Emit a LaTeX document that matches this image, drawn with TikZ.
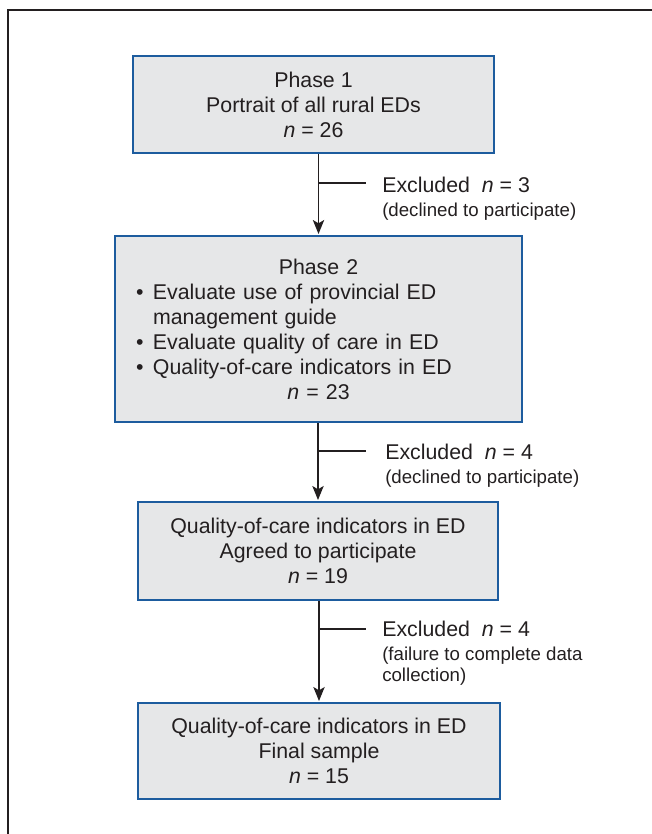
\documentclass[tikz,border=0pt]{standalone}
\usepackage{fontspec}
\setmainfont{Liberation Sans}
\usetikzlibrary{arrows.meta}

\definecolor{boxblue}{HTML}{1D5C9E}
\definecolor{boxgray}{HTML}{E6E7E8}
\definecolor{inkgray}{HTML}{231F20}

\newcommand{\nval}[1]{\textit{n} = #1}
\newcommand{\bpoint}[1]{\par\hangindent=12.75pt\hangafter=1\noindent\makebox[12.75pt][l]{\textbullet}#1}

\begin{document}
\begin{tikzpicture}[x=0.75pt,y=-0.75pt,
    stage/.style={draw=boxblue, line width=1.5pt, fill=boxgray, text=inkgray,
      align=center, inner sep=0pt, font=\fontsize{16}{18.75}\selectfont},
    flow/.style={draw=inkgray, line width=1pt, shorten >=0.75pt,
      -{Stealth[length=10.5pt,width=8.5pt,inset=2.5pt]}},
    tick/.style={draw=inkgray, line width=1pt},
    note/.style={anchor=north west, inner sep=0pt, align=left, text=inkgray,
      font=\fontsize{14}{16}\selectfont}]
  \useasboundingbox (0,0) rectangle (652,834);
  % frame
  \draw [inkgray, line width=0.9pt] (8,834) -- (8,10) -- (652,10);

  % stages
  \node [stage, minimum width=270.75pt, minimum height=72.75pt] (p1) at (313.5,104.5)
    {Phase 1\\Portrait of all rural EDs\\\nval{26}};
  \node [stage, align=left, text width=273.75pt, inner xsep=15.75pt, minimum height=139.5pt] (p2) at (318.5,329)
    {{\centering Phase 2\par}
     \bpoint{Evaluate use of provincial ED\newline management guide}
     \bpoint{Evaluate quality of care in ED}
     \bpoint{Quality-of-care indicators in ED}
     {\par\centering \nval{23}\par}};
  \node [stage, minimum width=270pt, minimum height=73.5pt] (p3) at (318,551)
    {Quality-of-care indicators in ED\\Agreed to participate\\\nval{19}};
  \node [stage, minimum width=271.5pt, minimum height=72pt] (p4) at (319,751)
    {Quality-of-care indicators in ED\\Final sample\\\nval{15}};

  % flow
  \draw [flow] (p2.north |- p1.south) -- (p2.north);
  \draw [flow] (p3.north |- p2.south) -- (p3.north);
  \draw [flow] (p4.north |- p3.south) -- (p4.north);

  % exclusions
  \coordinate (k1) at (366,183);
  \coordinate (k2) at (366,451);
  \coordinate (k3) at (366,629);
  \draw [tick] (p2.north |- k1) -- (k1);
  \draw [tick] (p3.north |- k2) -- (k2);
  \draw [tick] (p4.north |- k3) -- (k3);
  \node [note] (x1) at (382,177)
    {{\fontsize{16}{18.75}\selectfont Excluded\ \ \nval{3}}\\[1.75pt](declined to participate)};
  \node [note] (x2) at (385,444)
    {{\fontsize{16}{18.75}\selectfont Excluded\ \ \nval{4}}\\[1.75pt](declined to participate)};
  \node [note] (x3) at (382,621)
    {{\fontsize{16}{18.75}\selectfont Excluded\ \ \nval{4}}\\[1.75pt](failure to complete data\\collection)};
\end{tikzpicture}
\end{document}
